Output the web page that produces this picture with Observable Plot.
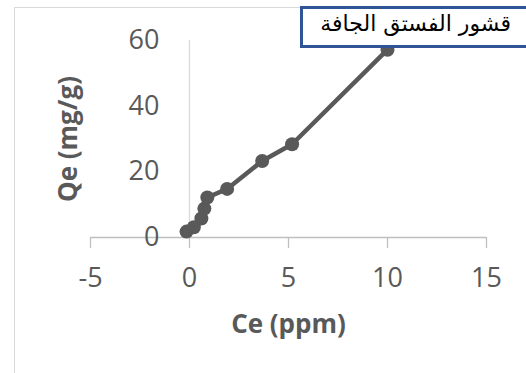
<!DOCTYPE html>
<html>
<head>
<meta charset="utf-8">
<script src="https://cdn.jsdelivr.net/npm/d3@7"></script>
<script src="https://cdn.jsdelivr.net/npm/@observablehq/plot@0.6"></script>
<style>
  html, body { margin: 0; padding: 0; background: #fff; overflow: hidden; }
  #wrap { position: relative; width: 526px; height: 373px; }
  #frame { position: absolute; left: 14px; top: 7px; width: 600px; height: 500px; border: 1px solid #d9d9d9; box-sizing: border-box; }
  #legend { position: absolute; left: 300px; top: 6px; width: 260px; height: 42px; border: 3px solid #2f5597; background: #fff; box-sizing: border-box; font-family: "DejaVu Sans", sans-serif; font-size: 22px; color: #000; }
  #legend span { position: absolute; right: 46px; top: 2px; direction: rtl; white-space: nowrap; }
  #chart { position: absolute; left: 0; top: 0; }
</style>
</head>
<body>
<div id="wrap">
  <div id="frame"></div>
  <div id="chart"></div>
  <div id="legend"><span id="legendText"></span></div>
</div>
<script>
const seriesName = "قشور الفستق الجافة";
const ce = [-0.15, 0.22, 0.6, 0.75, 0.9, 1.9, 3.67, 5.18, 10.0];
const qe = [1.8, 3.1, 5.8, 8.8, 12.2, 14.8, 23.3, 28.4, 57.2];
const xTicks = [-5, 0, 5, 10, 15];
const yTicks = [0, 20, 40, 60];
const xTitle = "Ce (ppm)";
const yTitle = "Qe (mg/g)";

const data = ce.map((c, i) => ({ce: c, qe: qe[i]}));
const font = "'Open Sans', sans-serif";

const chart = Plot.plot({
  width: 526,
  height: 373,
  marginLeft: 90,
  marginRight: 40,
  marginTop: 40,
  marginBottom: 136,
  style: { fontFamily: font, background: "transparent", overflow: "visible" },
  x: { domain: [-5, 15], ticks: xTicks },
  y: { domain: [0, 60], ticks: yTicks },
  marks: [
    Plot.ruleY([0], { stroke: "#bfbfbf", strokeWidth: 1.3 }),
    Plot.ruleX([0], { stroke: "#d9d9d9", strokeWidth: 1.3 }),
    Plot.axisX({ ticks: xTicks, tickSize: 11, tickPadding: 19, stroke: "#bfbfbf", strokeWidth: 1.3, fill: "#595959", fontSize: 27, label: null, tickFormat: d => String(d) }),
    Plot.axisY({ ticks: yTicks, tickSize: 0, tickPadding: 3, dx: 72, fill: "#595959", fontSize: 27, label: null }),
    Plot.line(data, { x: "ce", y: "qe", stroke: "#595959", strokeWidth: 4.5 }),
    Plot.dot(data, { x: "ce", y: "qe", r: 7, fill: "#595959", stroke: "none" }),
    Plot.text([xTitle], { frameAnchor: "bottom", dy: 95, text: d => d, fontSize: 26, fontWeight: "bold", fill: "#595959" }),
    Plot.text([yTitle], { frameAnchor: "left", dx: -22, rotate: -90, textAnchor: "middle", text: d => d, fontSize: 26, fontWeight: "bold", fill: "#595959" })
  ]
});
document.getElementById("chart").appendChild(chart);
document.getElementById("legendText").textContent = seriesName;
</script>
</body>
</html>
